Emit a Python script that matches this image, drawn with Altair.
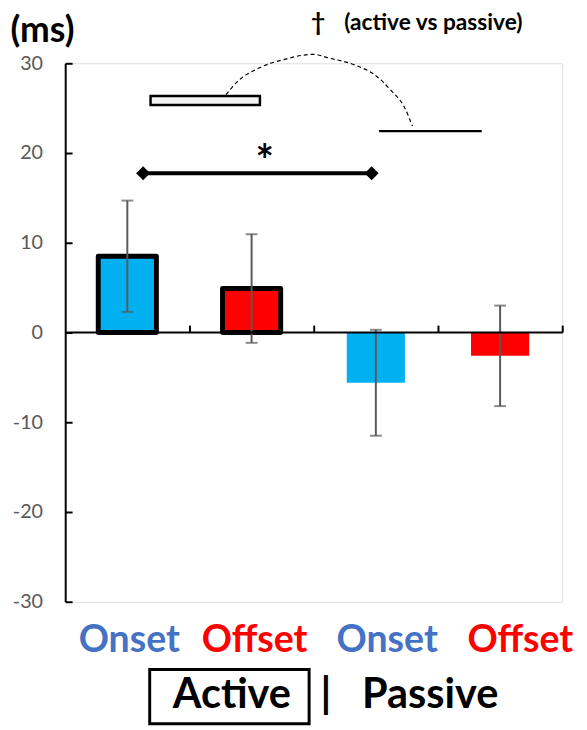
import altair as alt
import pandas as pd

# ---- data ----
conditions = ["Onset", "Offset", "Onset", "Offset"]
modes = ["Active", "Active", "Passive", "Passive"]
means = [8.5, 4.9, -5.6, -2.6]
sems = [6.2, 6.05, 5.9, 5.6]
y_ticks = [-30, -20, -10, 0, 10, 20, 30]
bar_fill = {"Onset": "#00B0F0", "Offset": "#FF0000"}
label_fill = {"Onset": "#4472C4", "Offset": "#FF0000"}

# ---- annotation geometry (data units) ----
label_x = [0.516, 1.524, 2.591, 3.663]
label_y = -35.55
arc_x = [1.294, 1.381, 1.563, 1.754, 2.0, 2.119, 2.333, 2.492, 2.627, 2.730, 2.794]
arc_y = [26.5, 27.9, 29.5, 30.4, 31.0, 30.6, 29.8, 28.7, 26.9, 25.1, 23.0]

W, H = 504, 546
FONT = "Lato"

xscale = alt.Scale(domain=[0, 4], nice=False, zero=False)
yscale = alt.Scale(domain=[-30, 30], nice=False, zero=False)

xaxis = alt.Axis(orient="top", offset=-272.5, values=[1, 2, 3, 4], labels=False,
                 title=None, grid=False, domainColor="black", domainWidth=2,
                 tickColor="black", tickWidth=2, tickSize=7, zindex=1)
yaxis = alt.Axis(orient="right", offset=-W, values=y_ticks, title=None, grid=False,
                 domainColor="black", domainWidth=2, tickColor="black", tickWidth=2,
                 tickSize=7, labelAlign="right", labelPadding=-30, labelFont=FONT,
                 labelFontSize=20, labelColor="#595959", labelBaseline="middle",
                 labelExpr="'' + datum.value", zindex=1)


def X(f):
    return alt.X(f, scale=xscale, axis=xaxis)


def Y(f):
    return alt.Y(f, scale=yscale, axis=yaxis)


bars_df = pd.DataFrame({
    "idx": list(range(len(means))),
    "cond": conditions,
    "mode": modes,
    "mean": means,
    "sem": sems,
})

base = alt.Chart(bars_df).transform_calculate(
    c="datum.idx + 0.5",
    x0="datum.idx + 0.5 - 0.234",
    x1="datum.idx + 0.5 + 0.234",
    lo="datum.mean - datum.sem",
    hi="datum.mean + datum.sem",
    zero="0",
)

bars = base.mark_bar(stroke="black", strokeJoin="round").encode(
    x=X("x0:Q"), x2="x1:Q", y=Y("mean:Q"), y2="zero:Q",
    fill=alt.Fill("cond:N", scale=alt.Scale(domain=list(bar_fill), range=list(bar_fill.values())), legend=None),
    strokeWidth=alt.StrokeWidth("mode:N", scale=alt.Scale(domain=["Active", "Passive"], range=[5, 0]), legend=None),
)

err = base.mark_rule(color="#595959", strokeWidth=2).encode(
    x=X("c:Q"), y=Y("lo:Q"), y2="hi:Q")
cap_hi = base.mark_tick(orient="horizontal", color="#595959", size=12, thickness=2).encode(
    x=X("c:Q"), y=Y("hi:Q"))
cap_lo = base.mark_tick(orient="horizontal", color="#595959", size=12, thickness=2).encode(
    x=X("c:Q"), y=Y("lo:Q"))

# ---- significance annotations ----
box_df = pd.DataFrame({"x0": [0.687], "x1": [1.567], "y0": [25.35], "y1": [26.35]})
box = alt.Chart(box_df).mark_rect(fill="#F2F2F2", stroke="black", strokeWidth=2.5).encode(
    x=X("x0:Q"), x2="x1:Q", y=Y("y0:Q"), y2="y1:Q")

pline_df = pd.DataFrame({"x0": [2.526], "x1": [3.352], "y": [22.44]})
pline = alt.Chart(pline_df).mark_rule(color="black", strokeWidth=2.5).encode(
    x=X("x0:Q"), x2="x1:Q", y=Y("y:Q"))

arc_df = pd.DataFrame({"x": arc_x, "y": arc_y})
arc = alt.Chart(arc_df).mark_line(color="black", strokeWidth=1.2, strokeDash=[4, 3],
                                  interpolate="monotone").encode(x=X("x:Q"), y=Y("y:Q"))

sig_df = pd.DataFrame({"x0": [0.627], "x1": [2.466], "y": [17.75]})
sig_line = alt.Chart(sig_df).mark_rule(color="black", strokeWidth=4).encode(
    x=X("x0:Q"), x2="x1:Q", y=Y("y:Q"))
dia_df = pd.DataFrame({"x": [0.627, 2.466], "y": [17.75, 17.75]})
diamonds = alt.Chart(dia_df).mark_point(shape="diamond", filled=True, color="black",
                                        size=200, opacity=1).encode(x=X("x:Q"), y=Y("y:Q"))


def text_layer(rows, **kw):
    df = pd.DataFrame(rows)
    return alt.Chart(df).mark_text(font=FONT, fontWeight="bold", baseline="alphabetic", **kw).encode(
        x=X("x:Q"), y=Y("y:Q"), text="t:N")


star = text_layer({"x": [1.606], "y": [17.4], "t": ["*"]}, fontSize=44, color="black")
ms = text_layer({"x": [-0.183], "y": [32.36], "t": ["(ms)"]}, fontSize=36, color="black")
dagger = text_layer({"x": [2.036], "y": [33.6], "t": ["†"]}, fontSize=25, color="black")
avp = text_layer({"x": [2.246], "y": [33.68], "t": ["(active vs passive)"]}, fontSize=23,
                 color="black", align="left")

lab_df = pd.DataFrame({"x": label_x, "y": [label_y] * 4, "t": conditions})
xlabels = alt.Chart(lab_df).mark_text(font=FONT, fontWeight="bold", fontSize=38, baseline="alphabetic").encode(
    x=X("x:Q"), y=Y("y:Q"), text="t:N",
    color=alt.Color("t:N", scale=alt.Scale(domain=list(label_fill), range=list(label_fill.values())), legend=None))

abox_df = pd.DataFrame({"x0": [0.680], "x1": [1.963], "y0": [-37.56], "y1": [-43.6]})
abox = alt.Chart(abox_df).mark_rect(fill="white", fillOpacity=0, stroke="black", strokeWidth=3).encode(
    x=X("x0:Q"), x2="x1:Q", y=Y("y0:Q"), y2="y1:Q")
active = text_layer({"x": [1.341], "y": [-41.8], "t": ["Active"]}, fontSize=42, color="black")
bar_sep = text_layer({"x": [2.099], "y": [-41.8], "t": ["|"]}, fontSize=42, color="black")
passive = text_layer({"x": [2.937], "y": [-41.8], "t": ["Passive"]}, fontSize=42, color="black")

chart = alt.layer(
    bars, err, cap_hi, cap_lo, box, pline, arc, sig_line, diamonds, star,
    ms, dagger, avp, xlabels, abox, active, bar_sep, passive,
).resolve_scale(fill="independent", color="independent").properties(
    width=W, height=H,
    autosize=alt.AutoSizeParams(type="none"),
    padding={"left": 58, "top": 51, "right": 17, "bottom": 125},
).configure_view(stroke=None).configure(background="white")

chart.save("out.html", embed_options={"renderer": "svg", "actions": False})
